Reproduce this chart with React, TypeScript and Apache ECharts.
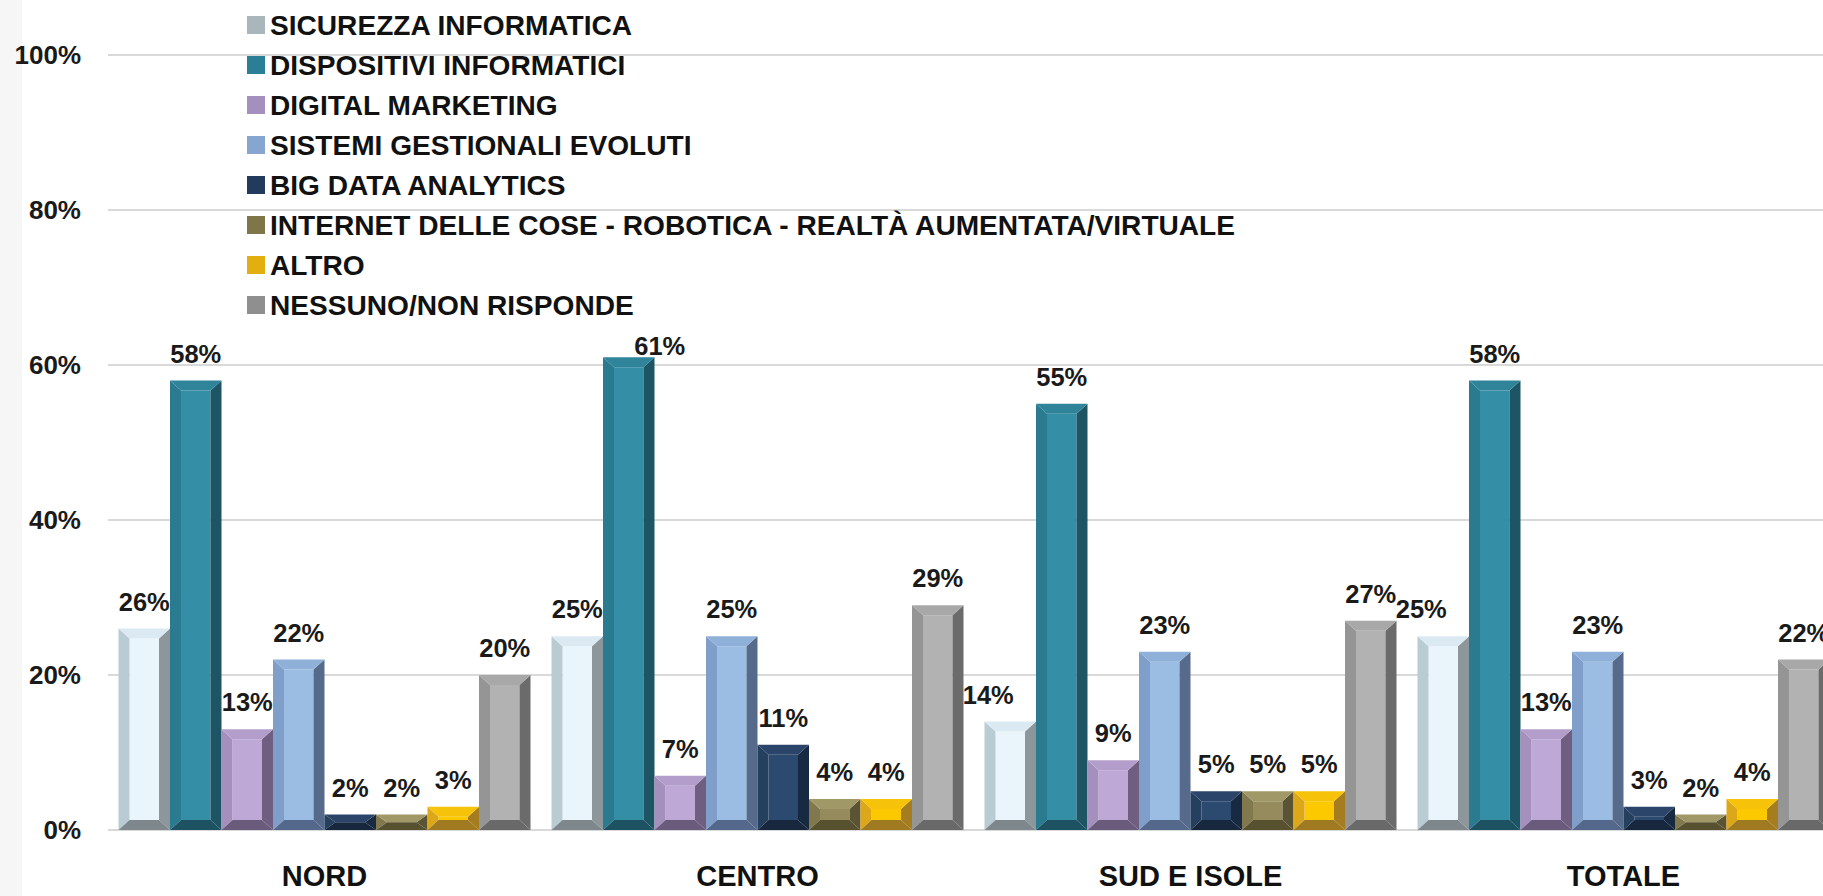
import React, { useEffect, useRef } from "react";
import * as echarts from "echarts";

const categories = ["NORD", "CENTRO", "SUD E ISOLE", "TOTALE"];
const seriesNames = [
  "SICUREZZA INFORMATICA",
  "DISPOSITIVI INFORMATICI",
  "DIGITAL MARKETING",
  "SISTEMI GESTIONALI EVOLUTI",
  "BIG DATA ANALYTICS",
  "INTERNET DELLE COSE - ROBOTICA - REALTÀ AUMENTATA/VIRTUALE",
  "ALTRO",
  "NESSUNO/NON RISPONDE",
];
const sicurezza = [26, 25, 14, 25];
const dispositivi = [58, 61, 55, 58];
const digitalMarketing = [13, 7, 9, 13];
const sistemiGestionali = [22, 25, 23, 23];
const bigData = [2, 11, 5, 3];
const internetCose = [2, 4, 5, 2];
const altro = [3, 4, 5, 4];
const nessuno = [20, 29, 27, 22];
const seriesValues = [sicurezza, dispositivi, digitalMarketing, sistemiGestionali, bigData, internetCose, altro, nessuno];
const yTicks = [0, 20, 40, 60, 80, 100];

// [face, left, right, top, bottom, legend]
const palette = [
  ["#e9f5fb", "#b9cbd3", "#8d979b", "#dbeaf2", "#7e888c", "#a9b6bc"],
  ["#338ea6", "#2a7a90", "#1d5565", "#2f8499", "#1d5262", "#2a7e95"],
  ["#bda8d6", "#a590bd", "#6f5e80", "#b39ecb", "#6a5a7c", "#a58fbf"],
  ["#9bbde4", "#7f9fca", "#566b8b", "#8eb0d9", "#53688a", "#86a6cf"],
  ["#2c4a6f", "#253f5f", "#182a42", "#2a4569", "#17283e", "#223b5c"],
  ["#958b5c", "#81784d", "#5b5434", "#a19868", "#58512f", "#7e7648"],
  ["#fcc800", "#dca718", "#a57d1e", "#f6c20a", "#a07a20", "#e3ae10"],
  ["#b2b2b2", "#959595", "#6b6b6b", "#a8a8a8", "#696969", "#8f8f8f"],
];

// label nudges (style only): key "series-category" -> [dx, dy]
const labelNudge: Record<string, [number, number]> = {
  "1-1": [31, 16],
  "0-2": [-22, 0],
  "0-3": [-22, 0],
};

const CAT_GAP = 0.0485;
const FONT = "Liberation Sans, Arial, sans-serif";
const CHART_W = 1840;

export default function App() {
  const ref = useRef<HTMLDivElement>(null);
  useEffect(() => {
    if (!ref.current) return;
    const chart = echarts.init(ref.current, undefined, { renderer: "svg" });
    const n = seriesNames.length;
    const series = seriesNames.map((name, si) => ({
      name,
      type: "custom",
      itemStyle: { color: palette[si][5] },
      encode: { x: 0, y: 1 },
      data: seriesValues[si].map((v, ci) => [ci, v]),
      renderItem: (params: any, api: any) => {
        const ci = api.value(0);
        const v = api.value(1);
        const p0 = api.coord([ci, 0]);
        const p1 = api.coord([ci, v]);
        const catW = api.size([1, 0])[0];
        const groupW = catW * (1 - CAT_GAP);
        const bw = groupW / n;
        const x0 = p0[0] - groupW / 2 + si * bw;
        const x1 = x0 + bw;
        const yb = p0[1];
        const yt = p1[1];
        const h = yb - yt;
        const bx = Math.min(11, bw / 4);
        const by = Math.min(10, h / 2);
        const c = palette[si];
        const nudge = labelNudge[`${si}-${ci}`] || [0, 0];
        return {
          type: "group",
          children: [
            { type: "rect", shape: { x: x0 + bx, y: yt + by, width: bw - 2 * bx, height: Math.max(0, h - 2 * by) }, style: { fill: c[0] } },
            { type: "polygon", shape: { points: [[x0, yt], [x0 + bx, yt + by], [x0 + bx, yb - by], [x0, yb]] }, style: { fill: c[1] } },
            { type: "polygon", shape: { points: [[x1, yt], [x1 - bx, yt + by], [x1 - bx, yb - by], [x1, yb]] }, style: { fill: c[2] } },
            { type: "polygon", shape: { points: [[x0, yt], [x1, yt], [x1 - bx, yt + by], [x0 + bx, yt + by]] }, style: { fill: c[3] } },
            { type: "polygon", shape: { points: [[x0, yb], [x1, yb], [x1 - bx, yb - by], [x0 + bx, yb - by]] }, style: { fill: c[4] } },
            {
              type: "text",
              z2: 10,
              style: {
                text: v + "%",
                x: (x0 + x1) / 2 + nudge[0],
                y: yt - 27 + nudge[1],
                align: "center",
                verticalAlign: "middle",
                fill: "#1a1a1a",
                font: `bold 25.5px ${FONT}`,
              },
            },
          ],
        };
      },
    }));

    chart.setOption({
      animation: false,
      backgroundColor: "#ffffff",
      graphic: [
        { type: "rect", left: 0, top: 0, shape: { width: 22, height: 896 }, style: { fill: "#f6f6f6" }, z: -10 },
      ],
      legend: {
        orient: "vertical",
        left: 242,
        top: 6,
        itemWidth: 18,
        itemHeight: 18,
        itemGap: 12,
        icon: "rect",
        textStyle: { fontFamily: FONT, fontWeight: "bold", fontSize: 28.1, color: "#111", lineHeight: 28, padding: [0, 0, 0, 0] },
        data: seriesNames,
      },
      grid: { left: 108, right: CHART_W - 1840, top: 55, bottom: 66, containLabel: false },
      xAxis: {
        type: "category",
        data: categories,
        axisLine: { show: false },
        axisTick: { show: false },
        axisLabel: { fontFamily: FONT, fontWeight: "bold", fontSize: 29, color: "#111", margin: 31 },
      },
      yAxis: {
        type: "value",
        min: yTicks[0],
        max: yTicks[yTicks.length - 1],
        interval: 20,
        axisLine: { show: false },
        axisTick: { show: false },
        splitLine: { lineStyle: { color: "#d9d9d9", width: 2 } },
        axisLabel: { fontFamily: FONT, fontWeight: "bold", fontSize: 26, color: "#1a1a1a", margin: 27, formatter: "{value}%" },
      },
      series,
    });
    return () => chart.dispose();
  }, []);
  return (
    <div style={{ position: "fixed", left: 0, top: 0, width: 1823, height: 896, overflow: "hidden" }}>
      <div ref={ref} style={{ width: CHART_W, height: 896 }} />
    </div>
  );
}
